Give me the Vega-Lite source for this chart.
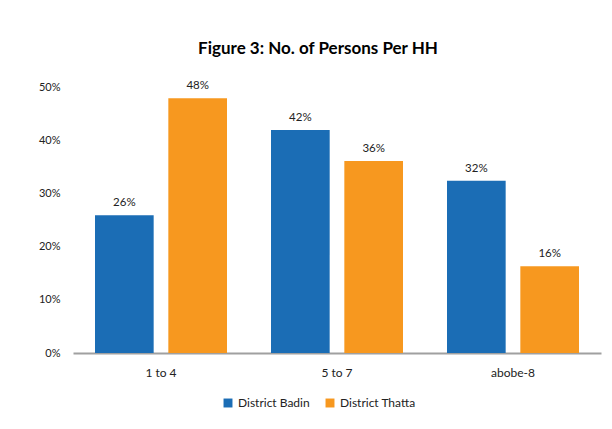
{
  "$schema": "https://vega.github.io/schema/vega-lite/v6.json",
  "autosize": "none",
  "width": 528,
  "height": 266,
  "padding": {"left": 73, "top": 87, "right": 11, "bottom": 76},
  "background": "white",
  "config": {
    "font": "Lato",
    "view": {"stroke": null}
  },
  "title": {
    "text": "Figure 3: No. of Persons Per HH",
    "fontSize": 17,
    "fontWeight": "bold",
    "font": "Lato",
    "color": "#000000",
    "anchor": "middle",
    "dx": -19,
    "offset": 22
  },
  "data": {
    "values": [
      {"group": "1 to 4", "district": "District Badin", "value": 0.259},
      {"group": "1 to 4", "district": "District Thatta", "value": 0.479},
      {"group": "5 to 7", "district": "District Badin", "value": 0.419},
      {"group": "5 to 7", "district": "District Thatta", "value": 0.361},
      {"group": "abobe-8", "district": "District Badin", "value": 0.324},
      {"group": "abobe-8", "district": "District Thatta", "value": 0.163}
    ]
  },
  "encoding": {
    "x": {
      "field": "group",
      "type": "nominal",
      "sort": null,
      "scale": {"paddingInner": 0.25, "paddingOuter": 0.125},
      "axis": {
        "title": null,
        "labelAngle": 0,
        "ticks": false,
        "domainColor": "#a0a0a0",
        "domainWidth": 2,
        "labelFontSize": 12,
        "labelColor": "#222222",
        "labelPadding": 14
      }
    },
    "xOffset": {
      "field": "district",
      "type": "nominal",
      "scale": {"paddingInner": 0.2, "paddingOuter": 0}
    },
    "y": {
      "field": "value",
      "type": "quantitative",
      "scale": {"domain": [0, 0.5]},
      "axis": {
        "title": null,
        "format": ".0%",
        "values": [0, 0.1, 0.2, 0.3, 0.4, 0.5],
        "labelOverlap": false,
        "grid": false,
        "domain": false,
        "ticks": false,
        "labelFontSize": 11,
        "labelColor": "#222222",
        "labelPadding": 13
      }
    }
  },
  "layer": [
    {
      "mark": {"type": "bar"},
      "encoding": {
        "color": {
          "field": "district",
          "type": "nominal",
          "scale": {"range": ["#1b6db5", "#f7981f"]},
          "legend": {
            "title": null,
            "orient": "none",
            "direction": "horizontal",
            "legendX": 149,
            "legendY": 310,
            "symbolType": "square",
            "symbolSize": 80,
            "symbolStrokeWidth": 0,
            "labelFontSize": 12,
            "labelColor": "#222222",
            "columnPadding": 14,
            "labelOffset": 4
          }
        }
      }
    },
    {
      "mark": {"type": "text", "baseline": "bottom", "dy": -7, "fontSize": 11.5, "color": "#222222"},
      "encoding": {
        "text": {"field": "value", "type": "quantitative", "format": ".0%"}
      }
    }
  ]
}
